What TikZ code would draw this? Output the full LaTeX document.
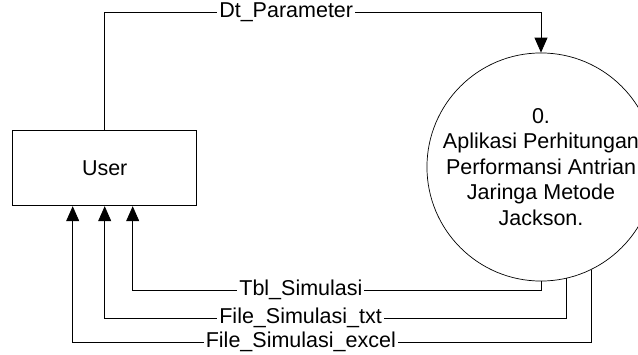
\documentclass[tikz,border=0pt]{standalone}
\usepackage{fontspec}
\setmainfont{Liberation Sans}
\usetikzlibrary{arrows.meta, calc}

\begin{document}
\begin{tikzpicture}[x=1pt, y=1pt,
  every node/.style={font=\fontsize{21.5}{25.5}\selectfont},
  entity/.style={draw, rectangle, line width=0.8pt, minimum width=184pt, minimum height=75pt, inner sep=0pt},
  process/.style={draw, circle, line width=0.7pt, minimum size=214pt, inner sep=0pt, align=center},
  flow/.style={draw, line width=0.8pt, -{Triangle[length=15pt, width=13pt]}},
  lbl/.style={fill=white, inner sep=2pt}]
  \useasboundingbox (0,0) rectangle (638,354);

  \node[entity] (user) at (104.7,185.7) {User};
  \node[process] (proc) at (541,187) {0.\\Aplikasi Perhitungan\\Performansi Antrian\\Jaringa Metode\\Jackson.};

  \draw[flow] (user.north) |- node[lbl, pos=0.708] {Dt\_Parameter} ($(proc.north)+(0,40)$) -- (proc.north);

  \draw[flow] (proc.south) |- node[lbl, pos=0.794] {Tbl\_Simulasi} ($(user.south)+(28,-84)$) -- ($(user.south)+(28,0)$);
  \draw[flow] (proc.-77) |- node[lbl, pos=0.788] {File\_Simulasi\_txt} ($(user.south)+(0,-112)$) -- (user.south);
  \draw[flow] (proc.-64.5) |- node[lbl, pos=0.78] {File\_Simulasi\_excel} ($(user.south)+(-32,-136)$) -- ($(user.south)+(-32,0)$);
\end{tikzpicture}
\end{document}
